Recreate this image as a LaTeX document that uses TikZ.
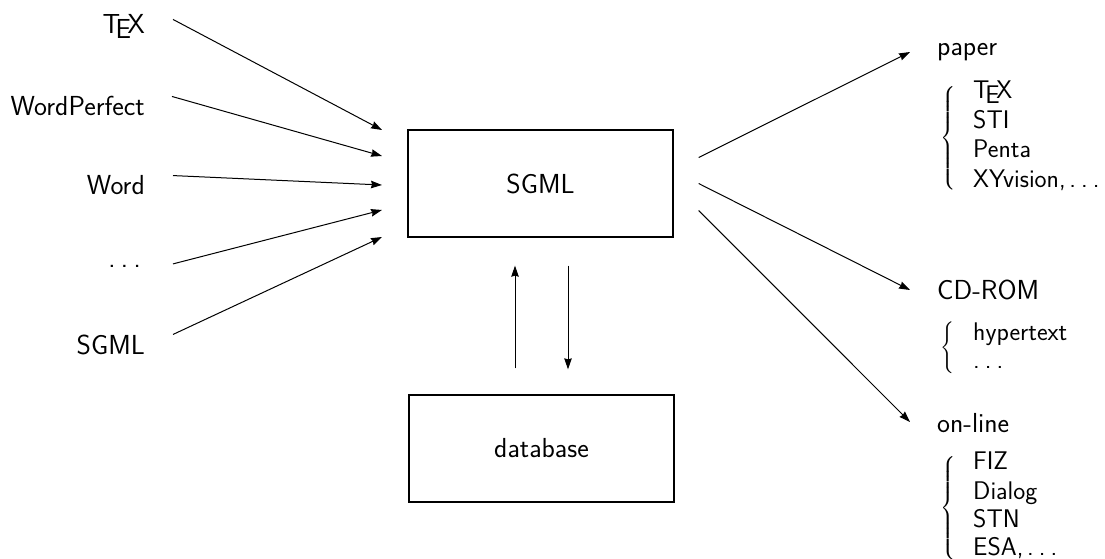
\documentclass[tikz,border=0pt]{standalone}
\usepackage{exscale}
\usepackage{fontspec}
\usetikzlibrary{arrows.meta,calc}
\newcommand{\mydots}{.\kern0.2em.\kern0.2em.}
\newcommand{\bracelen}[1]{$\left\{\vcenter{\hbox{\rule{0pt}{#1}}}\right.$}
\begin{document}
\begin{tikzpicture}[x=1pt,y=-1pt,
  lbl/.style={font=\sffamily\fontsize{27.5}{33}\selectfont, inner sep=0pt},
  itm/.style={font=\sffamily\fontsize{25.5}{30}\selectfont, inner sep=0pt, anchor=base west},
  box/.style={draw, line width=1.3pt, minimum width=265pt, minimum height=107pt, font=\sffamily\fontsize{27.5}{33}\selectfont},
  arr/.style={line width=1pt, -{Stealth[length=11pt,width=7.5pt,inset=1pt]}},
  brc/.style={inner sep=0pt, anchor=west, font=\fontsize{16}{19}\selectfont}]
\useasboundingbox (0,0) rectangle (1105,558);
% boxes
\node[box] (sgml) at (540.5,183.5) {SGML};
\node[box] (db) at (541.5,448.5) {database};
% left labels
\node[lbl, anchor=base east] (tex) at (145,33) {\TeX};
\node[lbl, anchor=base east] (wp) at (145,115) {WordPerfect};
\node[lbl, anchor=base east] (word) at (145,194) {Word};
\node[lbl, anchor=base east] (dots) at (141,267) {\mydots};
\node[lbl, anchor=base east] (sgmlin) at (145,354) {SGML};
% input arrow ends
\coordinate (i1) at (382,130);
\coordinate (i2) at (382,156);
\coordinate (i3) at (382,185);
\coordinate (i4) at (382,210);
\coordinate (i5) at (382,237);
\draw[arr] ($(tex.east)+(28,-7)$) -- (i1);
\draw[arr] ($(wp.east)+(27,-9)$) -- (i2);
\draw[arr] ($(word.east)+(28,-9)$) -- (i3);
\draw[arr] ($(dots.east)+(32,-2)$) -- (i4);
\draw[arr] ($(sgmlin.east)+(28,-10)$) -- (i5);
% between boxes
\coordinate (ux) at (515,0);
\coordinate (dx) at (568,0);
\draw[arr, shorten <=26pt, shorten >=28pt] (db.north -| ux) -- (sgml.south -| ux);
\draw[arr, shorten <=28pt, shorten >=25pt] (sgml.south -| dx) -- (db.north -| dx);
% outputs
\node[lbl, anchor=base west] (paper) at (937,55) {paper};
\node[lbl, anchor=base west] (cd) at (937,299) {CD-ROM};
\node[lbl, anchor=base west] (online) at (937,432) {on-line};
\coordinate (o1) at (910,52);
\coordinate (o2) at (910,290);
\coordinate (o3) at (910,422);
\draw[arr] ($(sgml.east)+(25,-26)$) -- (o1);
\draw[arr] ($(sgml.east)+(25,0)$) -- (o2);
\draw[arr] ($(sgml.east)+(25,27)$) -- (o3);
% paper items
\node[itm] (p1) at (973,98) {\TeX};
\node[itm] (p2) at (973,128) {STI};
\node[itm] (p3) at (973,157) {Penta};
\node[itm] (p4) at (973,187) {XYvision,\kern0.15em\mydots};
\node[brc] (b1) at (940,138) {\bracelen{104pt}};
% CD items
\node[itm] (c1) at (973,340) {hypertext};
\node[itm] (c2) at (973,368) {\mydots};
\node[brc] (b2) at (940,347.5) {\bracelen{56pt}};
% online items
\node[itm] (n1) at (973,469) {FIZ};
\node[itm] (n2) at (973,499) {Dialog};
\node[itm] (n3) at (973,527) {STN};
\node[itm] (n4) at (973,555) {ESA,\kern0.15em\mydots};
\node[brc] (b3) at (940,508) {\bracelen{106pt}};
\end{tikzpicture}
\end{document}
